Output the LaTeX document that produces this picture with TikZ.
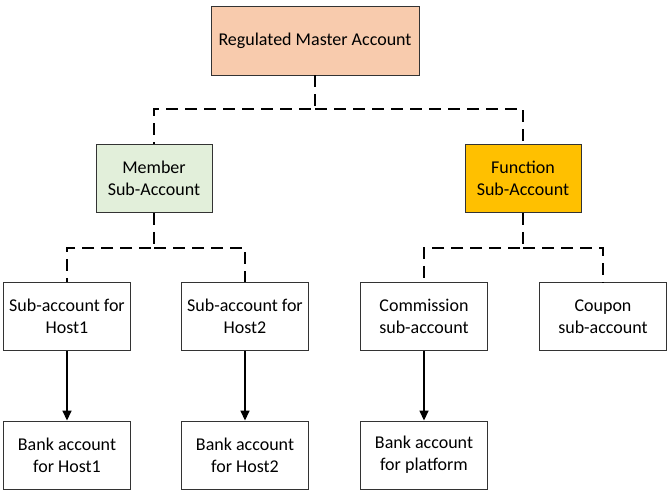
\documentclass[tikz,border=0pt]{standalone}
\usepackage{fontspec}
\setmainfont{Carlito}
\usetikzlibrary{arrows.meta}
\definecolor{salmon}{HTML}{F8CBAD}
\definecolor{lgreen}{HTML}{E2EFDA}
\definecolor{gold}{HTML}{FFC000}
\begin{document}
\begin{tikzpicture}[x=1pt,y=-1pt,
  box/.style={draw=black!80, line width=0.9pt, align=center, inner sep=0pt,
    font=\fontsize{18}{22}\selectfont},
  dashline/.style={draw=black, line width=1.9pt, dash pattern=on 12pt off 7pt},
  arr/.style={draw=black, line width=1.5pt, -{Triangle[length=10pt,width=9pt]}}]
\useasboundingbox (0,0) rectangle (669,493);
\node[box, fill=salmon, minimum width=208pt, minimum height=69pt] (top) at (315,40.5) {Regulated Master Account};
\node[box, fill=lgreen, minimum width=116pt, minimum height=68pt] (mem) at (154,178.5) {Member\\Sub-Account};
\node[box, fill=gold, minimum width=116pt, minimum height=68pt] (fun) at (523,178.5) {Function\\Sub-Account};
\foreach \n/\x/\t in {h1/67/{Sub-account for\\Host1}, h2/245/{Sub-account for\\Host2}, cm/424/{Commission\\sub-account}, cp/603/{Coupon\\sub-account}}
  \node[box, minimum width=127pt, minimum height=68pt] (\n) at (\x,316.5) {\t};
\foreach \n/\x/\t in {b1/67/{Bank account\\for Host1}, b2/245/{Bank account\\for Host2}, bp/424/{Bank account\\for platform}}
  \node[box, minimum width=127pt, minimum height=68pt] (\n) at (\x,455) {\t};
\coordinate (j0) at (315,109);
\coordinate (j1) at (154,248);
\coordinate (j2) at (523,248);
\draw[dashline] (top.south) -- (j0) -| (mem.north);
\draw[dashline] (j0) -| (fun.north);
\draw[dashline] (mem.south) -- (j1) -| (h1.north);
\draw[dashline] (j1) -| (h2.north);
\draw[dashline] (fun.south) -- (j2) -| (cm.north);
\draw[dashline] (j2) -| (cp.north);
\draw[arr] (h1) -- (b1);
\draw[arr] (h2) -- (b2);
\draw[arr] (cm) -- (bp);
\end{tikzpicture}
\end{document}
